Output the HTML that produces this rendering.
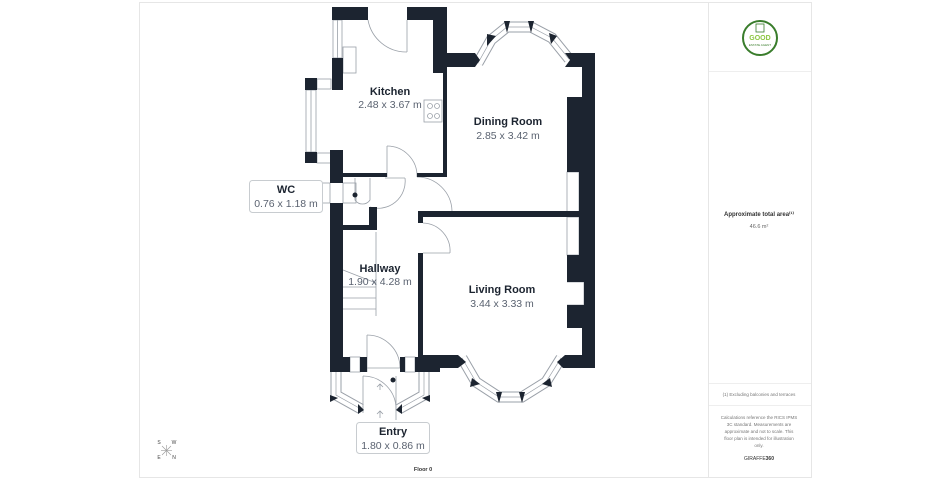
<!DOCTYPE html>
<html><head><meta charset="utf-8"><style>
html,body{margin:0;padding:0;background:#fff;width:950px;height:480px;overflow:hidden}
svg{display:block;font-family:"Liberation Sans",sans-serif}
</style></head><body>
<svg width="950" height="480" viewBox="0 0 950 480" xmlns="http://www.w3.org/2000/svg">
<!-- frame -->
<rect x="139.5" y="2.5" width="672" height="475" fill="none" stroke="#e6e6e6"/>
<line x1="708.5" y1="2" x2="708.5" y2="477" stroke="#e6e6e6"/>
<line x1="709" y1="71.5" x2="811" y2="71.5" stroke="#eee"/>
<line x1="709" y1="383.5" x2="811" y2="383.5" stroke="#eee"/>
<line x1="709" y1="405.5" x2="811" y2="405.5" stroke="#eee"/>
<!-- logo -->
<circle cx="760" cy="38" r="17" fill="none" stroke="#3a7d2c" stroke-width="2"/>
<text x="760" y="40" font-size="7" font-weight="bold" fill="#8cc63f" text-anchor="middle">GOOD</text>
<text x="760" y="46" font-size="3" fill="#3a7d2c" text-anchor="middle">ESTATE AGENT</text>
<rect x="756" y="24" width="8" height="8" fill="none" stroke="#3a7d2c" stroke-width="0.8"/>
<text x="759" y="216" font-size="6" font-weight="bold" fill="#333" text-anchor="middle">Approximate total area⁽¹⁾</text>
<text x="759" y="228" font-size="5.5" fill="#666" text-anchor="middle">46.6 m²</text>
<text x="759" y="396" font-size="4.5" fill="#777" text-anchor="middle">(1) Excluding balconies and terraces</text>
<g font-size="4.5" fill="#777" text-anchor="middle">
<text x="759" y="419">Calculations reference the RICS IPMS</text>
<text x="759" y="426">3C standard. Measurements are</text>
<text x="759" y="433">approximate and not to scale. This</text>
<text x="759" y="440">floor plan is intended for illustration</text>
<text x="759" y="447">only.</text>
</g>
<text x="759" y="460" font-size="5" fill="#333" text-anchor="middle">GIRAFFE<tspan font-weight="bold">360</tspan></text>
<!-- compass -->
<g font-size="5" fill="#444" text-anchor="middle">
<text x="159" y="444">S</text><text x="174" y="444">W</text>
<text x="159" y="459">E</text><text x="174" y="459">N</text>
</g>
<g stroke="#999" stroke-width="0.6"><line x1="162" y1="446" x2="171" y2="455"/><line x1="171" y1="446" x2="162" y2="455"/><line x1="166.5" y1="445" x2="166.5" y2="456"/><line x1="161" y1="450.5" x2="172" y2="450.5"/></g>

<!-- bay window bands -->
<g fill="none" stroke-linejoin="miter">
<path id="db" d="M478 63 L491 40 L507 27 L531 27 L552 38 L569 59" stroke="#9aa0a8" stroke-width="11"/>
<path d="M478 63 L491 40 L507 27 L531 27 L552 38 L569 59" stroke="#fff" stroke-width="9"/>
<path d="M478 63 L491 40 L507 27 L531 27 L552 38 L569 59" stroke="#9aa0a8" stroke-width="0.7"/>
<path d="M462 358 L476 382 L499 397 L522 397 L546 382 L561 358" stroke="#9aa0a8" stroke-width="11"/>
<path d="M462 358 L476 382 L499 397 L522 397 L546 382 L561 358" stroke="#fff" stroke-width="9"/>
<path d="M462 358 L476 382 L499 397 L522 397 L546 382 L561 358" stroke="#9aa0a8" stroke-width="0.7"/>
<path d="M336 372 L336 395 L361 409" stroke="#9aa0a8" stroke-width="11"/>
<path d="M336 372 L336 395 L361 409" stroke="#fff" stroke-width="9"/>
<path d="M336 372 L336 395 L361 409" stroke="#9aa0a8" stroke-width="0.7"/>
<path d="M424 372 L424 395 L399 409" stroke="#9aa0a8" stroke-width="11"/>
<path d="M424 372 L424 395 L399 409" stroke="#fff" stroke-width="9"/>
<path d="M424 372 L424 395 L399 409" stroke="#9aa0a8" stroke-width="0.7"/>
</g>

<!-- thin lines / windows -->
<g fill="none" stroke="#9aa0a8" stroke-width="0.8">
<rect x="333" y="20" width="9" height="38"/>
<line x1="337.5" y1="20" x2="337.5" y2="58"/>
<rect x="306" y="90" width="10" height="62"/>
<line x1="311" y1="90" x2="311" y2="152"/>
<rect x="317" y="79" width="14" height="10"/>
<rect x="317" y="153" width="14" height="10"/>
<rect x="343" y="47" width="13" height="26"/>
<rect x="424" y="100" width="18" height="22"/>
<circle cx="430" cy="106" r="2.5"/><circle cx="437" cy="106" r="2.5"/>
<circle cx="430" cy="116" r="2.5"/><circle cx="437" cy="116" r="2.5"/>
<line x1="407" y1="20" x2="407" y2="52"/><path d="M368 20 A39 39 0 0 0 407 52"/>
<line x1="387" y1="146" x2="387" y2="177"/><path d="M387 146 A30 30 0 0 1 417 177"/>
<path d="M417 177 A35 35 0 0 1 452 211"/>
<line x1="423" y1="253" x2="450" y2="253"/><path d="M423 223 A28 28 0 0 1 450 253"/>
<line x1="385" y1="178" x2="405" y2="178"/><path d="M405 178 A27 27 0 0 1 370 207"/>
<path d="M355 178 L355 200 A9 9 0 0 0 370 200 L370 178"/>
<rect x="343" y="183" width="13" height="20"/>
<rect x="319" y="183" width="11" height="20"/>
<line x1="376" y1="232" x2="376" y2="316"/>
<path d="M343 270 L376 283 M343 287 H376 M343 298 H376 M343 309 H376"/>
<rect x="567" y="172" width="12" height="41"/>
<rect x="567" y="217" width="12" height="38"/>
<path d="M567 282 H584 V305 H567"/>
<rect x="350" y="357" width="10" height="15"/>
<rect x="405" y="357" width="10" height="15"/>
<line x1="367" y1="335" x2="367" y2="372"/><path d="M367 335 A33 33 0 0 1 400 368"/>
<line x1="363" y1="376" x2="363" y2="413"/><path d="M363 376 A33 33 0 0 1 396 410"/>
<line x1="396" y1="376" x2="396" y2="420"/>
<line x1="360" y1="368" x2="405" y2="368"/>
<path d="M380 390 V384 M377 387 L380 384 L383 387"/>
<path d="M380 418 V411 M377 414 L380 411 L383 414"/>
</g>

<!-- walls -->
<g fill="#1c2430">
<rect x="332" y="7" width="36" height="13"/>
<rect x="407" y="7" width="40" height="13"/>
<rect x="433" y="7" width="14" height="66"/>
<polygon points="433,53 475,53 480,60 475,67 447,67 447,73 433,73"/>
<rect x="443" y="67" width="4" height="110"/>
<rect x="332" y="58" width="11" height="32"/>
<rect x="305" y="78" width="12" height="12"/>
<rect x="305" y="152" width="12" height="11"/>
<rect x="330" y="150" width="13" height="33"/>
<rect x="343" y="173" width="44" height="4"/>
<rect x="417" y="173" width="30" height="4"/>
<rect x="330" y="203" width="13" height="165"/>
<rect x="343" y="225" width="34" height="5"/>
<rect x="369" y="207" width="8" height="23"/>
<rect x="418" y="211" width="162" height="6"/>
<rect x="418" y="211" width="5" height="12"/>
<rect x="418" y="253" width="5" height="115"/>
<polygon points="418,355 458,355 466,362 458,368 418,368"/>
<polygon points="565,53 595,53 595,368 563,368 557,362 565,355 582,355 582,328 567,328 567,305 584,305 584,282 567,282 567,255 579,255 579,172 567,172 567,97 582,97 582,67 565,67 570,60"/>
<polygon points="487,34 496,36 487,46"/>
<polygon points="504,21 510,21 507,33"/>
<polygon points="528,21 534,21 531,33"/>
<polygon points="549,33 557,36 551,44"/>
<polygon points="472,378 480,384 470,387"/>
<polygon points="496,392 502,392 499,403"/>
<polygon points="519,392 525,392 522,403"/>
<polygon points="550,378 542,384 552,387"/>
<polygon points="330,395 338,398 330,402"/>
<polygon points="430,395 422,398 430,402"/>
<polygon points="358,404 364,410 358,414"/>
<polygon points="402,404 396,410 402,414"/>
<rect x="330" y="357" width="20" height="15"/>
<rect x="360" y="357" width="7" height="15"/>
<rect x="400" y="357" width="5" height="15"/>
<rect x="415" y="357" width="25" height="15"/>
<circle cx="355" cy="195" r="2.5"/>
<circle cx="393" cy="380" r="2.5"/>
</g>

<!-- labels -->
<g text-anchor="middle">
<text x="390" y="95" font-size="11" font-weight="bold" fill="#1c2430">Kitchen</text>
<text x="390" y="108" font-size="10.5" fill="#5a6270">2.48 x 3.67 m</text>
<text x="508" y="125" font-size="11" font-weight="bold" fill="#1c2430">Dining Room</text>
<text x="508" y="139" font-size="10.5" fill="#5a6270">2.85 x 3.42 m</text>
<text x="380" y="272" font-size="11" font-weight="bold" fill="#1c2430">Hallway</text>
<text x="380" y="285" font-size="10.5" fill="#5a6270">1.90 x 4.28 m</text>
<text x="502" y="293" font-size="11" font-weight="bold" fill="#1c2430">Living Room</text>
<text x="502" y="307" font-size="10.5" fill="#5a6270">3.44 x 3.33 m</text>
</g>
<rect x="249.5" y="180.5" width="73" height="32" rx="3" fill="#fff" stroke="#c8ccd0"/>
<text x="286" y="193" font-size="11" font-weight="bold" fill="#1c2430" text-anchor="middle">WC</text>
<text x="286" y="207" font-size="10.5" fill="#5a6270" text-anchor="middle">0.76 x 1.18 m</text>
<rect x="356.5" y="422.5" width="73" height="31" rx="3" fill="#fff" stroke="#c8ccd0"/>
<text x="393" y="435" font-size="11" font-weight="bold" fill="#1c2430" text-anchor="middle">Entry</text>
<text x="393" y="449" font-size="10.5" fill="#5a6270" text-anchor="middle">1.80 x 0.86 m</text>
<text x="423" y="471" font-size="5.5" font-weight="bold" fill="#333" text-anchor="middle">Floor 0</text>
</svg>
</body></html>
